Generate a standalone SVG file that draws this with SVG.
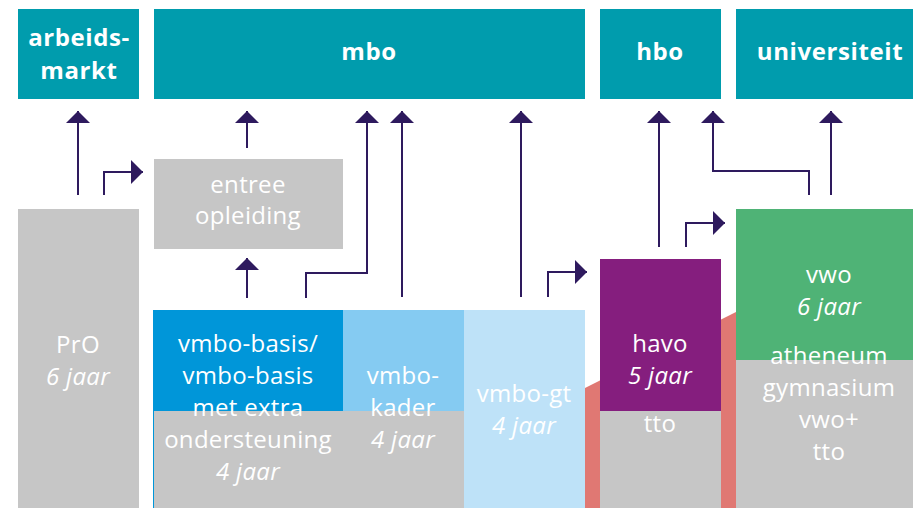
<svg xmlns="http://www.w3.org/2000/svg" width="913" height="508" viewBox="0 0 913 508">
<style>
.teal{fill:#009CAD}
.grey{fill:#C6C6C6}
.h{font-family:"Open Sans","Liberation Sans",sans-serif;font-weight:bold;font-size:24px;fill:#fff;text-anchor:middle;letter-spacing:0.6px}
.t{font-family:"Open Sans","Liberation Sans",sans-serif;font-size:24px;fill:#fff;text-anchor:middle;letter-spacing:0.3px}
.i{font-style:italic}
.c{fill:none;stroke:#2E1A5E;stroke-width:2;marker-end:url(#ah)}
</style>
<defs>
<marker id="ah" viewBox="0 0 12 24" refX="12" refY="12" markerWidth="12" markerHeight="24" markerUnits="userSpaceOnUse" orient="auto">
<path d="M0,0 L12,12 L0,24 Z" fill="#2E1A5E"/>
</marker>
</defs>
<rect width="913" height="508" fill="#fff"/>
<polygon id="diag" points="585,388 736,312 736,508 585,508" fill="#E07873"/>
<g id="arbeidsmarkt"><rect class="teal" x="18" y="9" width="121" height="90"/><text class="h" x="79" y="46">arbeids-</text><text class="h" x="79" y="79">markt</text></g>
<g id="mbo"><rect class="teal" x="154" y="9" width="431" height="90"/><text class="h" x="369" y="60">mbo</text></g>
<g id="hbo"><rect class="teal" x="600" y="9" width="121" height="90"/><text class="h" x="660" y="60">hbo</text></g>
<g id="universiteit"><rect class="teal" x="736" y="9" width="177" height="90"/><text class="h" x="830" y="60">universiteit</text></g>
<g id="entree"><rect class="grey" x="154" y="159" width="189" height="90"/><text class="t" x="248" y="193">entree</text><text class="t" x="248" y="224">opleiding</text></g>
<g id="pro"><rect class="grey" x="18" y="209" width="121" height="299"/><text class="t" x="78" y="353">PrO</text><text class="t i" x="78" y="385">6 jaar</text></g>
<g id="vmbo-basis"><rect class="grey" x="153" y="411" width="190" height="97"/><rect x="153" y="310" width="190" height="101" fill="#0096D9"/><rect x="153" y="411" width="1" height="97" fill="#0096D9"/><text class="t" x="248" y="352">vmbo-basis/</text><text class="t" x="248" y="384">vmbo-basis</text><text class="t" x="248" y="416">met extra</text><text class="t" x="248" y="448">ondersteuning</text><text class="t i" x="248" y="480">4 jaar</text></g>
<g id="vmbo-kader"><rect class="grey" x="343" y="411" width="121" height="97"/><rect x="343" y="310" width="121" height="101" fill="#85CBF2"/><text class="t" x="403" y="384">vmbo-</text><text class="t" x="403" y="416">kader</text><text class="t i" x="403" y="448">4 jaar</text></g>
<g id="vmbo-gt"><rect x="464" y="310" width="121" height="198" fill="#BEE2F8"/><text class="t" x="524" y="402">vmbo-gt</text><text class="t i" x="524" y="434">4 jaar</text></g>
<g id="havo"><rect x="600" y="259" width="121" height="152" fill="#851E7E"/><rect class="grey" x="600" y="411" width="121" height="97"/><text class="t" x="660" y="352">havo</text><text class="t i" x="660" y="384">5 jaar</text><text class="t" x="660" y="432">tto</text></g>
<g id="vwo"><rect x="736" y="209" width="177" height="151" fill="#4FB376"/><rect class="grey" x="736" y="360" width="177" height="148"/><text class="t" x="829" y="283">vwo</text><text class="t i" x="829" y="315">6 jaar</text><text class="t" x="829" y="364">atheneum</text><text class="t" x="829" y="396">gymnasium</text><text class="t" x="829" y="428">vwo+</text><text class="t" x="829" y="460">tto</text></g>
<g id="connectors">
<path class="c" d="M78,195 V111"/>
<path class="c" d="M104,195 V172 H143"/>
<path class="c" d="M247,148 V111"/>
<path class="c" d="M247,298 V258"/>
<path class="c" d="M306,298 V273 H367 V111"/>
<path class="c" d="M402,297 V111"/>
<path class="c" d="M521,297 V111"/>
<path class="c" d="M548,297 V272 H587"/>
<path class="c" d="M659,247 V111"/>
<path class="c" d="M686,247 V223 H725"/>
<path class="c" d="M809,195 V171 H713 V111"/>
<path class="c" d="M831,195 V111"/>
</g>
</svg>
